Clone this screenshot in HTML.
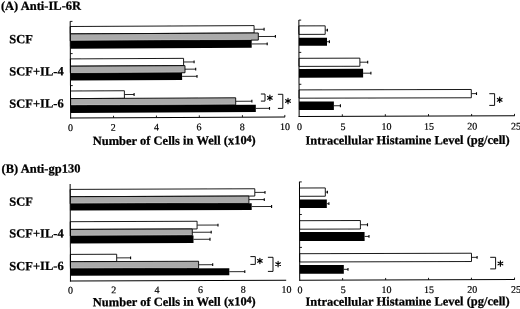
<!DOCTYPE html>
<html><head><meta charset="utf-8"><title>Figure</title>
<style>
html,body{margin:0;padding:0;background:#fff;}
body{width:520px;height:309px;overflow:hidden;}
svg{display:block;font-family:"Liberation Serif",serif;fill:#000;}
</style></head><body>
<svg width="520" height="309" viewBox="0 0 520 309">
<defs><filter id="soft" x="0" y="0" width="520" height="309" filterUnits="userSpaceOnUse"><feGaussianBlur stdDeviation="0.3"/></filter></defs>
<rect x="0" y="0" width="520" height="309" fill="#fff"/>
<g filter="url(#soft)">
<text x="0.90" y="10.00" font-size="12.5" text-anchor="start" font-weight="bold" stroke="#000" stroke-width="0.25" transform="rotate(-0.15 0.90 10.00)">(A) Anti-IL-6R</text>
<text x="9.30" y="43.30" font-size="12.5" text-anchor="start" font-weight="bold" stroke="#000" stroke-width="0.25" transform="rotate(-0.15 9.30 43.30)">SCF</text>
<text x="9.30" y="75.50" font-size="12.5" text-anchor="start" font-weight="bold" stroke="#000" stroke-width="0.25" transform="rotate(-0.15 9.30 75.50)">SCF+IL-4</text>
<text x="9.30" y="107.70" font-size="12.5" text-anchor="start" font-weight="bold" stroke="#000" stroke-width="0.25" transform="rotate(-0.15 9.30 107.70)">SCF+IL-6</text>
<g transform="rotate(-0.28 70.4 69.6)">
<line x1="254.29" y1="30.20" x2="264.29" y2="30.20" stroke="#000" stroke-width="0.85"/>
<line x1="264.29" y1="28.80" x2="264.29" y2="31.60" stroke="#000" stroke-width="1.1"/>
<line x1="258.46" y1="37.45" x2="275.56" y2="37.45" stroke="#000" stroke-width="0.85"/>
<line x1="275.56" y1="36.05" x2="275.56" y2="38.85" stroke="#000" stroke-width="1.1"/>
<line x1="251.82" y1="44.85" x2="267.32" y2="44.85" stroke="#000" stroke-width="0.85"/>
<line x1="267.32" y1="43.45" x2="267.32" y2="46.25" stroke="#000" stroke-width="1.1"/>
<rect x="70.40" y="26.50" width="183.89" height="7.40" fill="#fff" stroke="#000" stroke-width="0.9"/>
<rect x="70.40" y="33.90" width="188.06" height="7.10" fill="#aaaaaa" stroke="#000" stroke-width="0.9"/>
<line x1="71.00" y1="40.25" x2="251.22" y2="40.25" stroke="#c2c2c2" stroke-width="0.7"/>
<rect x="70.40" y="41.00" width="181.42" height="7.70" fill="#000"/>
<line x1="183.63" y1="62.55" x2="194.13" y2="62.55" stroke="#000" stroke-width="0.85"/>
<line x1="194.13" y1="61.15" x2="194.13" y2="63.95" stroke="#000" stroke-width="1.1"/>
<line x1="185.00" y1="69.75" x2="195.70" y2="69.75" stroke="#000" stroke-width="0.85"/>
<line x1="195.70" y1="68.35" x2="195.70" y2="71.15" stroke="#000" stroke-width="1.1"/>
<line x1="182.06" y1="76.90" x2="196.96" y2="76.90" stroke="#000" stroke-width="0.85"/>
<line x1="196.96" y1="75.50" x2="196.96" y2="78.30" stroke="#000" stroke-width="1.1"/>
<rect x="70.40" y="58.90" width="113.23" height="7.30" fill="#fff" stroke="#000" stroke-width="0.9"/>
<rect x="70.40" y="66.20" width="114.60" height="7.10" fill="#aaaaaa" stroke="#000" stroke-width="0.9"/>
<line x1="71.00" y1="72.55" x2="181.46" y2="72.55" stroke="#c2c2c2" stroke-width="0.7"/>
<rect x="70.40" y="73.30" width="111.66" height="7.20" fill="#000"/>
<line x1="124.28" y1="94.80" x2="133.98" y2="94.80" stroke="#000" stroke-width="0.85"/>
<line x1="133.98" y1="93.40" x2="133.98" y2="96.20" stroke="#000" stroke-width="1.1"/>
<line x1="235.54" y1="102.10" x2="251.74" y2="102.10" stroke="#000" stroke-width="0.85"/>
<line x1="251.74" y1="100.70" x2="251.74" y2="103.50" stroke="#000" stroke-width="1.1"/>
<line x1="255.61" y1="109.30" x2="269.31" y2="109.30" stroke="#000" stroke-width="0.85"/>
<line x1="269.31" y1="107.90" x2="269.31" y2="110.70" stroke="#000" stroke-width="1.1"/>
<rect x="70.40" y="91.00" width="53.88" height="7.60" fill="#fff" stroke="#000" stroke-width="0.9"/>
<rect x="70.40" y="98.60" width="165.14" height="7.00" fill="#aaaaaa" stroke="#000" stroke-width="0.9"/>
<line x1="71.00" y1="104.85" x2="234.94" y2="104.85" stroke="#c2c2c2" stroke-width="0.7"/>
<rect x="70.40" y="105.60" width="185.21" height="7.40" fill="#000"/>
<line x1="70.40" y1="21.20" x2="70.40" y2="118.50" stroke="#000" stroke-width="1.0"/>
<line x1="69.90" y1="118.00" x2="284.80" y2="118.00" stroke="#000" stroke-width="1.0"/>
<line x1="70.40" y1="21.40" x2="72.70" y2="21.40" stroke="#000" stroke-width="0.9"/>
<line x1="70.40" y1="53.60" x2="72.70" y2="53.60" stroke="#000" stroke-width="0.9"/>
<line x1="70.40" y1="85.60" x2="72.70" y2="85.60" stroke="#000" stroke-width="0.9"/>
<line x1="113.30" y1="118.00" x2="113.30" y2="116.00" stroke="#000" stroke-width="0.9"/>
<line x1="156.20" y1="118.00" x2="156.20" y2="116.00" stroke="#000" stroke-width="0.9"/>
<line x1="199.10" y1="118.00" x2="199.10" y2="116.00" stroke="#000" stroke-width="0.9"/>
<line x1="242.20" y1="118.00" x2="242.20" y2="116.00" stroke="#000" stroke-width="0.9"/>
<line x1="284.60" y1="118.00" x2="284.60" y2="116.00" stroke="#000" stroke-width="0.9"/>
</g>
<path d="M260.90 94.00H265.00V101.10H260.90" fill="none" stroke="#000" stroke-width="0.95"/>
<path d="M269.90 95.10L269.90 100.50M272.24 96.45L267.56 99.15M272.24 99.15L267.56 96.45" fill="none" stroke="#000" stroke-width="1.15" stroke-linecap="round"/>
<path d="M277.90 94.30H282.80V108.40H277.90" fill="none" stroke="#000" stroke-width="0.95"/>
<path d="M288.00 98.30L288.00 103.70M290.34 99.65L285.66 102.35M290.34 102.35L285.66 99.65" fill="none" stroke="#000" stroke-width="1.15" stroke-linecap="round"/>
<text x="70.60" y="131.00" font-size="10" text-anchor="middle" stroke="#000" stroke-width="0.2" transform="rotate(-0.286 70.60 131.00)">0</text>
<text x="113.30" y="130.79" font-size="10" text-anchor="middle" stroke="#000" stroke-width="0.2" transform="rotate(-0.286 113.30 130.79)">2</text>
<text x="156.50" y="130.57" font-size="10" text-anchor="middle" stroke="#000" stroke-width="0.2" transform="rotate(-0.286 156.50 130.57)">4</text>
<text x="199.10" y="130.36" font-size="10" text-anchor="middle" stroke="#000" stroke-width="0.2" transform="rotate(-0.286 199.10 130.36)">6</text>
<text x="242.20" y="130.14" font-size="10" text-anchor="middle" stroke="#000" stroke-width="0.2" transform="rotate(-0.286 242.20 130.14)">8</text>
<text x="285.00" y="129.93" font-size="10" text-anchor="middle" stroke="#000" stroke-width="0.2" transform="rotate(-0.286 285.00 129.93)">10</text>
<text x="92.7" y="145.1" font-size="12.5" font-weight="bold" stroke="#000" stroke-width="0.25" transform="rotate(-0.3 92.7 145.1)">Number of Cells in Well (x10<tspan font-size="9.5" dy="-2.6" stroke-width="0.4">4</tspan><tspan dy="2.6">)</tspan></text>
<g transform="rotate(-0.14 299.0 68.2)">
<line x1="325.29" y1="30.15" x2="327.49" y2="30.15" stroke="#000" stroke-width="0.85"/>
<line x1="327.49" y1="28.75" x2="327.49" y2="31.55" stroke="#000" stroke-width="1.1"/>
<rect x="299.00" y="25.90" width="26.29" height="8.50" fill="#fff" stroke="#000" stroke-width="0.9"/>
<line x1="327.06" y1="41.80" x2="329.46" y2="41.80" stroke="#000" stroke-width="0.85"/>
<line x1="329.46" y1="40.40" x2="329.46" y2="43.20" stroke="#000" stroke-width="1.1"/>
<rect x="299.00" y="37.80" width="28.06" height="8.00" fill="#000"/>
<line x1="359.91" y1="62.35" x2="367.71" y2="62.35" stroke="#000" stroke-width="0.85"/>
<line x1="367.71" y1="60.95" x2="367.71" y2="63.75" stroke="#000" stroke-width="1.1"/>
<rect x="299.00" y="58.30" width="60.91" height="8.10" fill="#fff" stroke="#000" stroke-width="0.9"/>
<line x1="363.09" y1="73.35" x2="370.89" y2="73.35" stroke="#000" stroke-width="0.85"/>
<line x1="370.89" y1="71.95" x2="370.89" y2="74.75" stroke="#000" stroke-width="1.1"/>
<rect x="299.00" y="69.00" width="64.09" height="8.70" fill="#000"/>
<line x1="471.24" y1="94.05" x2="476.44" y2="94.05" stroke="#000" stroke-width="0.85"/>
<line x1="476.44" y1="92.65" x2="476.44" y2="95.45" stroke="#000" stroke-width="1.1"/>
<rect x="299.00" y="89.90" width="172.24" height="8.30" fill="#fff" stroke="#000" stroke-width="0.9"/>
<line x1="333.81" y1="105.85" x2="340.31" y2="105.85" stroke="#000" stroke-width="0.85"/>
<line x1="340.31" y1="104.45" x2="340.31" y2="107.25" stroke="#000" stroke-width="1.1"/>
<rect x="299.00" y="101.60" width="34.81" height="8.50" fill="#000"/>
<line x1="299.00" y1="19.90" x2="299.00" y2="116.90" stroke="#000" stroke-width="1.0"/>
<line x1="298.50" y1="116.40" x2="514.60" y2="116.40" stroke="#000" stroke-width="1.0"/>
<line x1="299.00" y1="20.10" x2="301.30" y2="20.10" stroke="#000" stroke-width="0.9"/>
<line x1="299.00" y1="52.40" x2="301.30" y2="52.40" stroke="#000" stroke-width="0.9"/>
<line x1="299.00" y1="84.30" x2="301.30" y2="84.30" stroke="#000" stroke-width="0.9"/>
<line x1="342.20" y1="116.40" x2="342.20" y2="114.40" stroke="#000" stroke-width="0.9"/>
<line x1="385.20" y1="116.40" x2="385.20" y2="114.40" stroke="#000" stroke-width="0.9"/>
<line x1="428.40" y1="116.40" x2="428.40" y2="114.40" stroke="#000" stroke-width="0.9"/>
<line x1="471.50" y1="116.40" x2="471.50" y2="114.40" stroke="#000" stroke-width="0.9"/>
<line x1="514.40" y1="116.40" x2="514.40" y2="114.40" stroke="#000" stroke-width="0.9"/>
</g>
<path d="M489.30 93.70H494.60V105.40H489.30" fill="none" stroke="#000" stroke-width="0.95"/>
<path d="M499.70 97.10L499.70 102.50M502.04 98.45L497.36 101.15M502.04 101.15L497.36 98.45" fill="none" stroke="#000" stroke-width="1.15" stroke-linecap="round"/>
<text x="299.50" y="130.10" font-size="10" text-anchor="middle" stroke="#000" stroke-width="0.2" transform="rotate(-0.16 299.50 130.10)">0</text>
<text x="343.00" y="129.98" font-size="10" text-anchor="middle" stroke="#000" stroke-width="0.2" transform="rotate(-0.16 343.00 129.98)">5</text>
<text x="386.50" y="129.86" font-size="10" text-anchor="middle" stroke="#000" stroke-width="0.2" transform="rotate(-0.16 386.50 129.86)">10</text>
<text x="428.90" y="129.74" font-size="10" text-anchor="middle" stroke="#000" stroke-width="0.2" transform="rotate(-0.16 428.90 129.74)">15</text>
<text x="472.30" y="129.62" font-size="10" text-anchor="middle" stroke="#000" stroke-width="0.2" transform="rotate(-0.16 472.30 129.62)">20</text>
<text x="516.00" y="129.49" font-size="10" text-anchor="middle" stroke="#000" stroke-width="0.2" transform="rotate(-0.16 516.00 129.49)">25</text>
<text x="305.50" y="144.50" font-size="12.5" text-anchor="start" font-weight="bold" stroke="#000" stroke-width="0.25" transform="rotate(-0.14 305.50 144.50)">Intracellular Histamine Level (pg/cell)</text>
<text x="1.60" y="172.80" font-size="12.5" text-anchor="start" font-weight="bold" stroke="#000" stroke-width="0.25" transform="rotate(-0.15 1.60 172.80)">(B) Anti-gp130</text>
<text x="9.30" y="205.70" font-size="12.5" text-anchor="start" font-weight="bold" stroke="#000" stroke-width="0.25" transform="rotate(-0.15 9.30 205.70)">SCF</text>
<text x="9.30" y="237.60" font-size="12.5" text-anchor="start" font-weight="bold" stroke="#000" stroke-width="0.25" transform="rotate(-0.15 9.30 237.60)">SCF+IL-4</text>
<text x="9.30" y="270.20" font-size="12.5" text-anchor="start" font-weight="bold" stroke="#000" stroke-width="0.25" transform="rotate(-0.15 9.30 270.20)">SCF+IL-6</text>
<g transform="rotate(-0.2 70.3 232.5)">
<line x1="254.94" y1="193.05" x2="265.14" y2="193.05" stroke="#000" stroke-width="0.85"/>
<line x1="265.14" y1="191.65" x2="265.14" y2="194.45" stroke="#000" stroke-width="1.1"/>
<line x1="249.01" y1="200.25" x2="264.41" y2="200.25" stroke="#000" stroke-width="0.85"/>
<line x1="264.41" y1="198.85" x2="264.41" y2="201.65" stroke="#000" stroke-width="1.1"/>
<line x1="251.79" y1="207.20" x2="271.69" y2="207.20" stroke="#000" stroke-width="0.85"/>
<line x1="271.69" y1="205.80" x2="271.69" y2="208.60" stroke="#000" stroke-width="1.1"/>
<rect x="70.30" y="189.40" width="184.64" height="7.30" fill="#fff" stroke="#000" stroke-width="0.9"/>
<rect x="70.30" y="196.70" width="178.71" height="7.10" fill="#aaaaaa" stroke="#000" stroke-width="0.9"/>
<line x1="70.90" y1="203.05" x2="248.41" y2="203.05" stroke="#c2c2c2" stroke-width="0.7"/>
<rect x="70.30" y="203.80" width="181.49" height="6.80" fill="#000"/>
<line x1="197.12" y1="225.55" x2="218.02" y2="225.55" stroke="#000" stroke-width="0.85"/>
<line x1="218.02" y1="224.15" x2="218.02" y2="226.95" stroke="#000" stroke-width="1.1"/>
<line x1="192.30" y1="232.70" x2="211.20" y2="232.70" stroke="#000" stroke-width="0.85"/>
<line x1="211.20" y1="231.30" x2="211.20" y2="234.10" stroke="#000" stroke-width="1.1"/>
<line x1="193.47" y1="239.75" x2="209.97" y2="239.75" stroke="#000" stroke-width="0.85"/>
<line x1="209.97" y1="238.35" x2="209.97" y2="241.15" stroke="#000" stroke-width="1.1"/>
<rect x="70.30" y="221.70" width="126.82" height="7.70" fill="#fff" stroke="#000" stroke-width="0.9"/>
<rect x="70.30" y="229.40" width="122.00" height="6.60" fill="#aaaaaa" stroke="#000" stroke-width="0.9"/>
<line x1="70.90" y1="235.25" x2="191.70" y2="235.25" stroke="#c2c2c2" stroke-width="0.7"/>
<rect x="70.30" y="236.00" width="123.17" height="7.50" fill="#000"/>
<line x1="116.61" y1="258.05" x2="130.51" y2="258.05" stroke="#000" stroke-width="0.85"/>
<line x1="130.51" y1="256.65" x2="130.51" y2="259.45" stroke="#000" stroke-width="1.1"/>
<line x1="198.49" y1="265.20" x2="212.59" y2="265.20" stroke="#000" stroke-width="0.85"/>
<line x1="212.59" y1="263.80" x2="212.59" y2="266.60" stroke="#000" stroke-width="1.1"/>
<line x1="229.16" y1="272.25" x2="244.66" y2="272.25" stroke="#000" stroke-width="0.85"/>
<line x1="244.66" y1="270.85" x2="244.66" y2="273.65" stroke="#000" stroke-width="1.1"/>
<rect x="70.30" y="254.40" width="46.31" height="7.30" fill="#fff" stroke="#000" stroke-width="0.9"/>
<rect x="70.30" y="261.70" width="128.19" height="7.00" fill="#aaaaaa" stroke="#000" stroke-width="0.9"/>
<line x1="70.90" y1="267.95" x2="197.89" y2="267.95" stroke="#c2c2c2" stroke-width="0.7"/>
<rect x="70.30" y="268.70" width="158.86" height="7.10" fill="#000"/>
<line x1="70.30" y1="183.90" x2="70.30" y2="281.60" stroke="#000" stroke-width="1.0"/>
<line x1="69.80" y1="281.10" x2="286.00" y2="281.10" stroke="#000" stroke-width="1.0"/>
</g>
<path d="M250.40 256.60H255.30V264.40H250.40" fill="none" stroke="#000" stroke-width="0.95"/>
<path d="M259.90 258.20L259.90 263.60M262.24 259.55L257.56 262.25M262.24 262.25L257.56 259.55" fill="none" stroke="#000" stroke-width="1.15" stroke-linecap="round"/>
<path d="M267.90 257.30H273.00V271.40H267.90" fill="none" stroke="#000" stroke-width="0.95"/>
<path d="M278.10 261.40L278.10 266.80M280.44 262.75L275.76 265.45M280.44 265.45L275.76 262.75" fill="none" stroke="#000" stroke-width="1.15" stroke-linecap="round"/>
<text x="70.60" y="293.50" font-size="10" text-anchor="middle" stroke="#000" stroke-width="0.2" transform="rotate(-0.229 70.60 293.50)">0</text>
<text x="113.80" y="293.33" font-size="10" text-anchor="middle" stroke="#000" stroke-width="0.2" transform="rotate(-0.229 113.80 293.33)">2</text>
<text x="157.00" y="293.15" font-size="10" text-anchor="middle" stroke="#000" stroke-width="0.2" transform="rotate(-0.229 157.00 293.15)">4</text>
<text x="200.40" y="292.98" font-size="10" text-anchor="middle" stroke="#000" stroke-width="0.2" transform="rotate(-0.229 200.40 292.98)">6</text>
<text x="243.20" y="292.81" font-size="10" text-anchor="middle" stroke="#000" stroke-width="0.2" transform="rotate(-0.229 243.20 292.81)">8</text>
<text x="286.60" y="292.64" font-size="10" text-anchor="middle" stroke="#000" stroke-width="0.2" transform="rotate(-0.229 286.60 292.64)">10</text>
<text x="92.8" y="306.3" font-size="12.5" font-weight="bold" stroke="#000" stroke-width="0.25" transform="rotate(-0.3 92.8 306.3)">Number of Cells in Well (x10<tspan font-size="9.5" dy="-2.6" stroke-width="0.4">4</tspan><tspan dy="2.6">)</tspan></text>
<g transform="rotate(-0.16 299.6 230.9)">
<line x1="325.41" y1="192.15" x2="327.51" y2="192.15" stroke="#000" stroke-width="0.85"/>
<line x1="327.51" y1="190.75" x2="327.51" y2="193.55" stroke="#000" stroke-width="1.1"/>
<rect x="299.60" y="188.00" width="25.81" height="8.30" fill="#fff" stroke="#000" stroke-width="0.9"/>
<line x1="326.88" y1="203.80" x2="328.98" y2="203.80" stroke="#000" stroke-width="0.85"/>
<line x1="328.98" y1="202.40" x2="328.98" y2="205.20" stroke="#000" stroke-width="1.1"/>
<rect x="299.60" y="199.60" width="27.28" height="8.40" fill="#000"/>
<line x1="360.42" y1="224.95" x2="367.52" y2="224.95" stroke="#000" stroke-width="0.85"/>
<line x1="367.52" y1="223.55" x2="367.52" y2="226.35" stroke="#000" stroke-width="1.1"/>
<rect x="299.60" y="220.70" width="60.82" height="8.50" fill="#fff" stroke="#000" stroke-width="0.9"/>
<line x1="364.58" y1="236.60" x2="368.98" y2="236.60" stroke="#000" stroke-width="0.85"/>
<line x1="368.98" y1="235.20" x2="368.98" y2="238.00" stroke="#000" stroke-width="1.1"/>
<rect x="299.60" y="232.10" width="64.98" height="9.00" fill="#000"/>
<line x1="471.42" y1="257.85" x2="477.02" y2="257.85" stroke="#000" stroke-width="0.85"/>
<line x1="477.02" y1="256.45" x2="477.02" y2="259.25" stroke="#000" stroke-width="1.1"/>
<rect x="299.60" y="253.70" width="171.82" height="8.30" fill="#fff" stroke="#000" stroke-width="0.9"/>
<line x1="343.69" y1="269.45" x2="347.89" y2="269.45" stroke="#000" stroke-width="0.85"/>
<line x1="347.89" y1="268.05" x2="347.89" y2="270.85" stroke="#000" stroke-width="1.1"/>
<rect x="299.60" y="265.10" width="44.09" height="8.70" fill="#000"/>
<line x1="299.60" y1="181.70" x2="299.60" y2="280.70" stroke="#000" stroke-width="1.0"/>
<line x1="299.10" y1="280.20" x2="514.60" y2="280.20" stroke="#000" stroke-width="1.0"/>
<line x1="299.60" y1="181.90" x2="301.90" y2="181.90" stroke="#000" stroke-width="0.9"/>
<line x1="299.60" y1="214.50" x2="301.90" y2="214.50" stroke="#000" stroke-width="0.9"/>
<line x1="299.60" y1="247.40" x2="301.90" y2="247.40" stroke="#000" stroke-width="0.9"/>
<line x1="342.50" y1="280.20" x2="342.50" y2="278.20" stroke="#000" stroke-width="0.9"/>
<line x1="385.50" y1="280.20" x2="385.50" y2="278.20" stroke="#000" stroke-width="0.9"/>
<line x1="428.40" y1="280.20" x2="428.40" y2="278.20" stroke="#000" stroke-width="0.9"/>
<line x1="471.30" y1="280.20" x2="471.30" y2="278.20" stroke="#000" stroke-width="0.9"/>
<line x1="514.40" y1="280.20" x2="514.40" y2="278.20" stroke="#000" stroke-width="0.9"/>
</g>
<path d="M490.20 257.30H495.60V268.90H490.20" fill="none" stroke="#000" stroke-width="0.95"/>
<path d="M500.40 260.80L500.40 266.20M502.74 262.15L498.06 264.85M502.74 264.85L498.06 262.15" fill="none" stroke="#000" stroke-width="1.15" stroke-linecap="round"/>
<text x="300.00" y="293.20" font-size="10" text-anchor="middle" stroke="#000" stroke-width="0.2" transform="rotate(-0.115 300.00 293.20)">0</text>
<text x="343.20" y="293.11" font-size="10" text-anchor="middle" stroke="#000" stroke-width="0.2" transform="rotate(-0.115 343.20 293.11)">5</text>
<text x="386.50" y="293.03" font-size="10" text-anchor="middle" stroke="#000" stroke-width="0.2" transform="rotate(-0.115 386.50 293.03)">10</text>
<text x="428.90" y="292.94" font-size="10" text-anchor="middle" stroke="#000" stroke-width="0.2" transform="rotate(-0.115 428.90 292.94)">15</text>
<text x="472.30" y="292.86" font-size="10" text-anchor="middle" stroke="#000" stroke-width="0.2" transform="rotate(-0.115 472.30 292.86)">20</text>
<text x="516.00" y="292.77" font-size="10" text-anchor="middle" stroke="#000" stroke-width="0.2" transform="rotate(-0.115 516.00 292.77)">25</text>
<text x="305.50" y="305.80" font-size="12.5" text-anchor="start" font-weight="bold" stroke="#000" stroke-width="0.25" transform="rotate(-0.16 305.50 305.80)">Intracellular Histamine Level (pg/cell)</text>
</g>
</svg>
</body></html>
